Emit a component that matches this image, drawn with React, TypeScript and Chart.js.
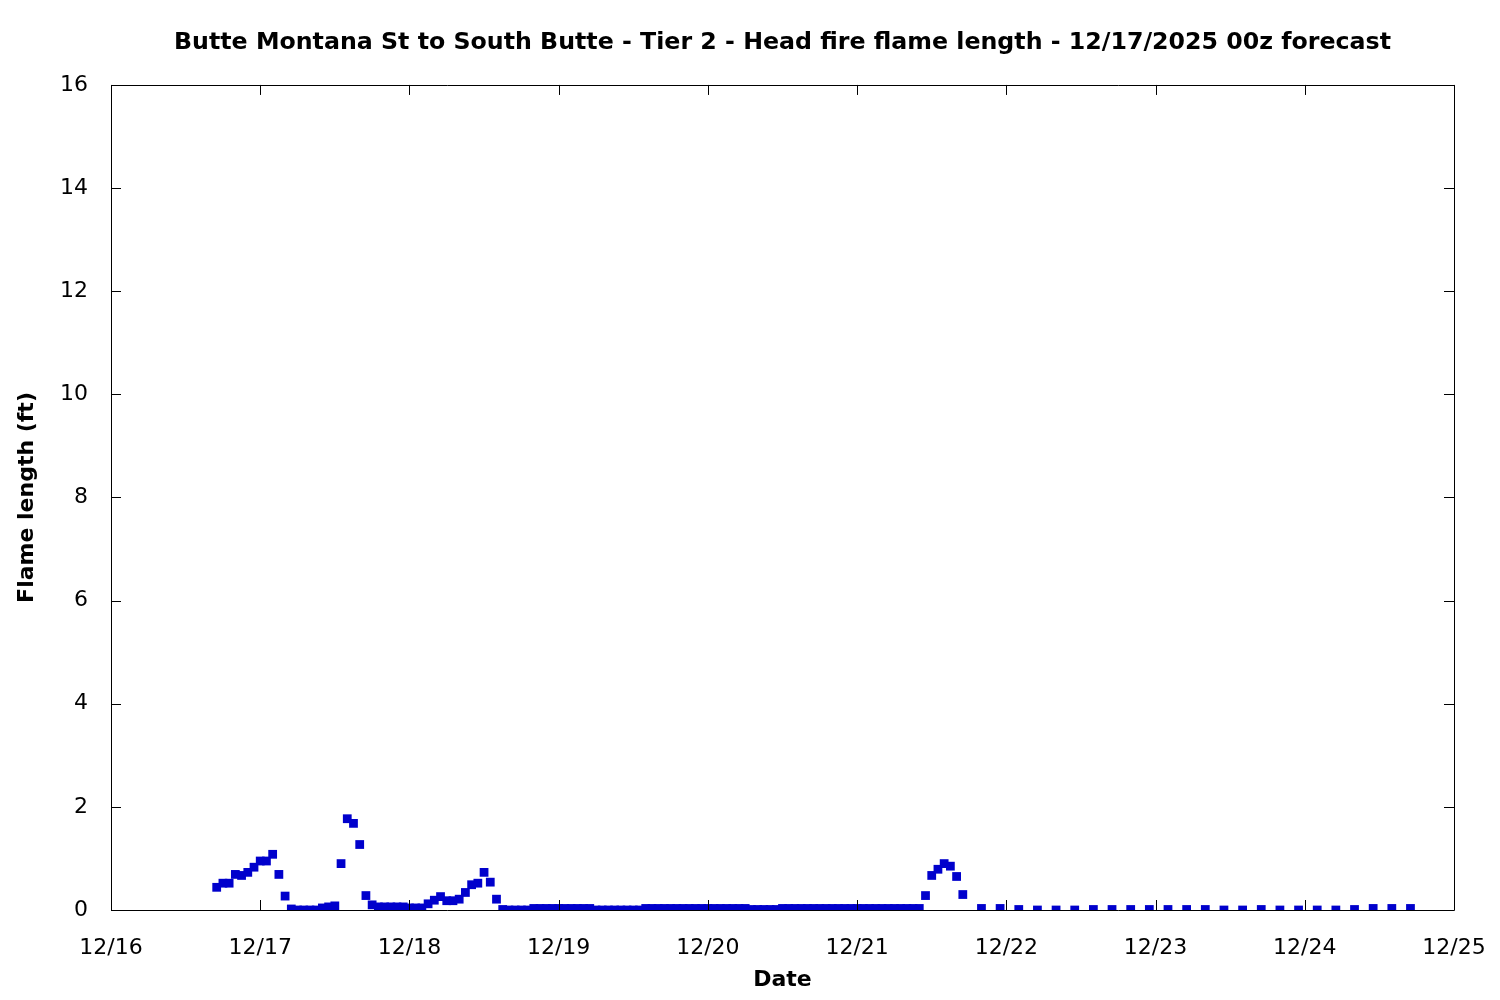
import React, { useEffect, useRef } from "react";
import { Chart, registerables } from "chart.js";

Chart.register(...registerables);

// X axis: hours since 12/16 00:00
const dayLabels = ["12/16", "12/17", "12/18", "12/19", "12/20", "12/21", "12/22", "12/23", "12/24", "12/25"];
const yTickValues = [0, 2, 4, 6, 8, 10, 12, 14, 16];

// Hourly forecast, starting 12/16 17:00
const hourlyStartHour = 17;
const hourlyValues = [
  // 12/16 17-23
  0.44, 0.52, 0.52, 0.69, 0.67, 0.73, 0.83,
  // 12/17
  0.95, 0.95, 1.08, 0.69, 0.27, 0.02, 0, 0, 0, 0, 0.04, 0.06, 0.08, 0.9, 1.77, 1.68, 1.27, 0.28, 0.1, 0.06, 0.06, 0.06, 0.06, 0.06,
  // 12/18
  0.04, 0.04, 0.04, 0.12, 0.19, 0.26, 0.18, 0.18, 0.21, 0.34, 0.49, 0.52, 0.73, 0.54, 0.21, 0.01, 0, 0, 0, 0, 0.03, 0.03, 0.03, 0.03,
  // 12/19
  0.03, 0.03, 0.03, 0.03, 0.03, 0.03, 0, 0, 0, 0, 0, 0, 0, 0, 0.03, 0.03, 0.03, 0.03, 0.03, 0.03, 0.03, 0.03, 0.03, 0.03,
  // 12/20
  0.03, 0.03, 0.03, 0.03, 0.03, 0.03, 0.03, 0.01, 0.01, 0.01, 0.01, 0.01, 0.03, 0.03, 0.03, 0.03, 0.03, 0.03, 0.03, 0.03, 0.03, 0.03, 0.03, 0.03,
  // 12/21 0-17
  0.03, 0.03, 0.03, 0.03, 0.03, 0.03, 0.03, 0.03, 0.03, 0.03, 0.03, 0.28, 0.67, 0.79, 0.9, 0.85, 0.65, 0.3,
];

// 3-hourly forecast, starting 12/21 20:00
const threeHourlyStartHour = 140;
const threeHourlyValues = [
  0.03, 0.03,
  0.01, 0, 0, 0, 0.01, 0.01, 0.01, 0.01,
  0.01, 0.01, 0.01, 0, 0, 0.01, 0, 0,
  0, 0, 0.01, 0.03, 0.03, 0.03,
];

const titleText = "Butte Montana St to South Butte - Tier 2 - Head fire flame length - 12/17/2025 00z forecast";

const framePlugin = {
  id: "gnuFrame",
  afterDraw(chart: any) {
    const { ctx, chartArea: a, scales } = chart;
    const tl = 10;
    ctx.save();
    ctx.strokeStyle = "#000";
    ctx.lineWidth = 1;
    ctx.beginPath();
    ctx.rect(Math.round(a.left) + 0.5, Math.round(a.top) + 0.5, Math.round(a.right - a.left), Math.round(a.bottom - a.top));
    for (const t of scales.x.ticks) {
      const px = Math.round(scales.x.getPixelForValue(t.value)) + 0.5;
      ctx.moveTo(px, a.bottom);
      ctx.lineTo(px, a.bottom - tl);
      ctx.moveTo(px, a.top);
      ctx.lineTo(px, a.top + tl);
    }
    for (const t of scales.y.ticks) {
      const py = Math.round(scales.y.getPixelForValue(t.value)) + 0.5;
      ctx.moveTo(a.left, py);
      ctx.lineTo(a.left + tl, py);
      ctx.moveTo(a.right, py);
      ctx.lineTo(a.right - tl, py);
    }
    ctx.stroke();
    ctx.restore();
  },
};

export default function App() {
  const ref = useRef<HTMLCanvasElement | null>(null);

  useEffect(() => {
    document.body.style.margin = "0";
    const points: { x: number; y: number }[] = [];
    hourlyValues.forEach((v, i) => points.push({ x: hourlyStartHour + i, y: v }));
    threeHourlyValues.forEach((v, i) => points.push({ x: threeHourlyStartHour + i * 3, y: v }));

    const font = "'DejaVu Sans', sans-serif";
    const chart = new Chart(ref.current as HTMLCanvasElement, {
      type: "scatter",
      data: {
        datasets: [
          {
            data: points,
            pointStyle: "rect",
            pointRadius: 6.2,
            pointHoverRadius: 6.2,
            backgroundColor: "#0000cc",
            borderColor: "#0000cc",
            borderWidth: 0,
            showLine: false,
          },
        ],
      },
      options: {
        responsive: false,
        animation: false,
        color: "#000",
        layout: { padding: { left: 0, right: 46, top: 0, bottom: 0 } },
        plugins: {
          legend: { display: false },
          tooltip: { enabled: false },
          title: {
            display: true,
            fullSize: false,
            text: titleText,
            color: "#000",
            font: { family: font, size: 23.7, weight: "bold", lineHeight: 1.2 },
            padding: { top: 29, bottom: 27.5 },
          },
        },
        scales: {
          x: {
            type: "linear",
            min: 0,
            max: 216,
            grid: { display: false },
            border: { display: false },
            afterBuildTicks: (scale: any) => {
              scale.ticks = dayLabels.map((_, i) => ({ value: i * 24 }));
            },
            afterFit: (scale: any) => {
              scale.height = 90;
              scale.paddingLeft = 0;
              scale.paddingRight = 0;
            },
            ticks: {
              color: "#000",
              padding: 17,
              maxRotation: 0,
              autoSkip: false,
              font: { family: font, size: 22 },
              callback: (v: any) => dayLabels[Math.round(Number(v) / 24)],
            },
            title: {
              display: true,
              text: "Date",
              color: "#000",
              font: { family: font, size: 22, weight: "bold", lineHeight: 1.2 },
              padding: { top: 0, bottom: 7 },
            },
          },
          y: {
            type: "linear",
            min: 0,
            max: 16,
            grid: { display: false },
            border: { display: false },
            afterBuildTicks: (scale: any) => {
              scale.ticks = yTickValues.map((v) => ({ value: v }));
            },
            afterFit: (scale: any) => {
              scale.width = 111;
            },
            ticks: {
              color: "#000",
              padding: 15,
              autoSkip: false,
              font: { family: font, size: 22 },
              callback: (v: any) => String(v),
            },
            title: {
              display: true,
              text: "Flame length (ft)",
              color: "#000",
              font: { family: font, size: 22, weight: "bold", lineHeight: 1.2 },
              padding: { top: 14, bottom: 0 },
            },
          },
        },
      },
      plugins: [framePlugin],
    });
    return () => chart.destroy();
  }, []);

  return (
    <div style={{ width: 1500, height: 1000 }}>
      <canvas ref={ref} width={1500} height={1000} />
    </div>
  );
}
